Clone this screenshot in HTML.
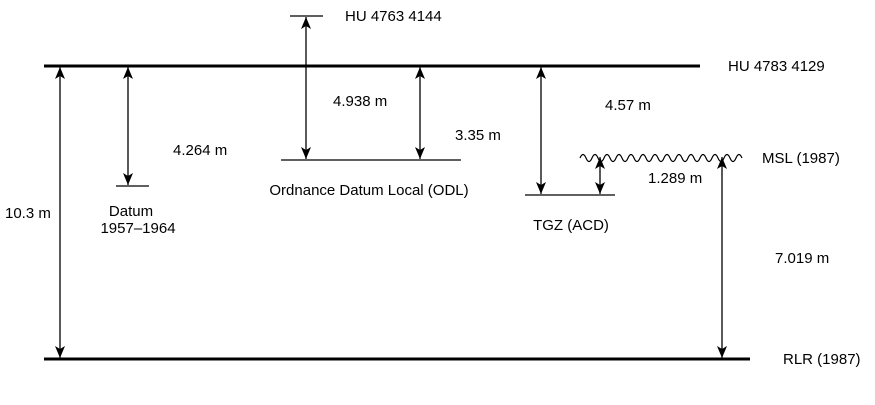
<!DOCTYPE html>
<html><head><style>
html,body{margin:0;padding:0;background:#fff;}
svg text{font-family:"Liberation Sans",sans-serif;font-size:15px;fill:#000;}
</style></head><body>
<svg width="875" height="400" viewBox="0 0 875 400" xmlns="http://www.w3.org/2000/svg">
<defs>
<marker id="a" viewBox="0 0 12 10" refX="12" refY="5" markerWidth="12" markerHeight="10" markerUnits="userSpaceOnUse" orient="auto-start-reverse">
<path d="M0,0 L12,5 L0,10 L3,5 Z" fill="#000"/>
</marker>
</defs>
<g stroke="#000" fill="none">
<line x1="44" y1="66" x2="700" y2="66" stroke-width="3"/>
<line x1="44" y1="359" x2="750" y2="359" stroke-width="3"/>
<line x1="290" y1="16" x2="323" y2="16" stroke-width="1.2"/>
<line x1="116" y1="186" x2="149" y2="186" stroke-width="1.2"/>
<line x1="281" y1="160" x2="461" y2="160" stroke-width="1.2"/>
<line x1="525" y1="195" x2="615" y2="195" stroke-width="1.2"/>
<path d="M580,158 q3,-7 6,0 t6,0 t6,0 t6,0 t6,0 t6,0 t6,0 t6,0 t6,0 t6,0 t6,0 t6,0 t6,0 t6,0 t6,0 t6,0 t6,0 t6,0 t6,0 t6,0 t6,0 t6,0 t6,0 t6,0 t6,0 t6,0 t6,0" stroke-width="1.2"/>
<g stroke-width="1.3" marker-start="url(#a)" marker-end="url(#a)">
<line x1="60" y1="67" x2="60" y2="358"/>
<line x1="128" y1="67" x2="128" y2="185"/>
<line x1="306" y1="17" x2="306" y2="159"/>
<line x1="420" y1="67" x2="420" y2="159"/>
<line x1="541" y1="67" x2="541" y2="194"/>
<line x1="600" y1="157" x2="600" y2="194"/>
<line x1="722" y1="157" x2="722" y2="358"/>
</g>
</g>
<text x="345" y="21">HU 4763 4144</text>
<text x="728" y="71">HU 4783 4129</text>
<text x="333" y="106">4.938 m</text>
<text x="455" y="140">3.35 m</text>
<text x="605" y="110">4.57 m</text>
<text x="173" y="155">4.264 m</text>
<text x="762" y="163">MSL (1987)</text>
<text x="648" y="183">1.289 m</text>
<text x="369" y="195" text-anchor="middle">Ordnance Datum Local (ODL)</text>
<text x="571" y="230" text-anchor="middle">TGZ (ACD)</text>
<text x="131" y="216" text-anchor="middle">Datum</text>
<text x="138" y="233" text-anchor="middle">1957–1964</text>
<text x="5" y="218">10.3 m</text>
<text x="775" y="263">7.019 m</text>
<text x="783" y="364">RLR (1987)</text>
</svg>
</body></html>
